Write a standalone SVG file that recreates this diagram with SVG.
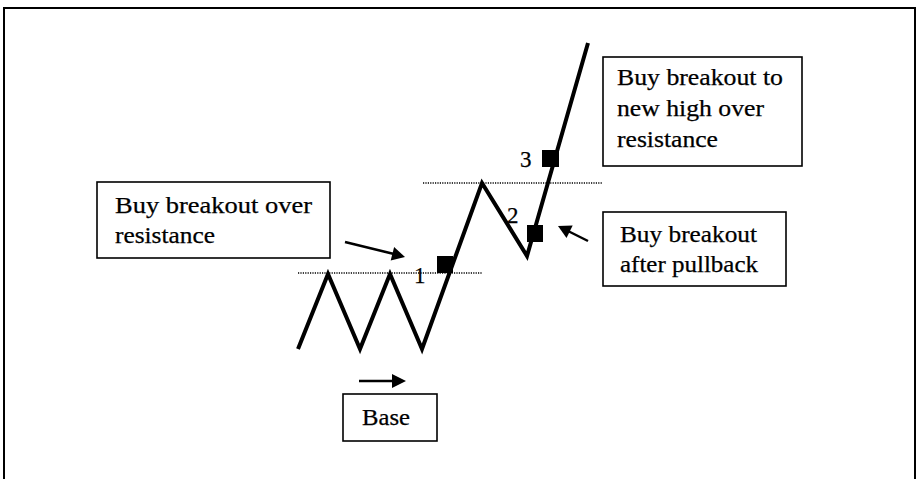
<svg xmlns="http://www.w3.org/2000/svg" width="919" height="479" viewBox="0 0 919 479">
<style>
.box{fill:#fff;stroke:#000;stroke-width:1.6}
.t{font-family:"Liberation Serif","Times New Roman",serif;font-size:23px;fill:#000;stroke:#000;stroke-width:0.25}
.n{font-family:"Liberation Serif","Times New Roman",serif;font-size:23px;fill:#000;stroke:#000;stroke-width:0.25}
.price{fill:none;stroke:#000;stroke-width:4;stroke-linejoin:miter;stroke-linecap:butt}
.res{stroke:#000;stroke-width:1.3;stroke-dasharray:1.2 1.2}
.arr{stroke:#000;stroke-width:2.4;fill:none}
.head{fill:#000;stroke:none}
</style>
<rect width="919" height="479" fill="#fff"/>
<path id="frame" d="M4,481 V8 H915 V481" fill="none" stroke="#000" stroke-width="2"/>

<g id="resistance-lines">
<line class="res" x1="298" y1="273" x2="482" y2="273"/>
<line class="res" x1="423" y1="183" x2="603" y2="183"/>
</g>

<g id="price">
<polyline class="price" points="298,349 328,274 360,349 390,274 422,349 482,183 527,256 588,43"/>
</g>

<g id="entry1">
<rect x="437" y="256" width="16" height="17" fill="#000"/>
<text class="n" x="414" y="283">1</text>
</g>
<g id="entry2">
<rect x="527" y="225" width="16" height="17" fill="#000"/>
<text class="n" x="507" y="223">2</text>
</g>
<g id="entry3">
<rect x="542" y="150" width="17" height="17" fill="#000"/>
<text class="n" x="520" y="167">3</text>
</g>

<g id="connectors">
<path class="arr" d="M345,242 L394,254"/>
<polygon class="head" points="405,257 390.7,260.6 394.1,247"/>
<path class="arr" d="M588,241 L568,231"/>
<polygon class="head" points="558,226 572.7,225.5 566.5,238.1"/>
<path class="arr" d="M359,381 L394,381"/>
<polygon class="head" points="406,381 392,374 392,388"/>
</g>

<g id="box-over-resistance">
<rect class="box" x="97" y="182" width="233" height="76"/>
<text class="t" x="115" y="213" textLength="197" lengthAdjust="spacingAndGlyphs">Buy breakout over</text>
<text class="t" x="115" y="243" textLength="100" lengthAdjust="spacingAndGlyphs">resistance</text>
</g>

<g id="box-new-high">
<rect class="box" x="603" y="57" width="199" height="109"/>
<text class="t" x="617" y="85" textLength="166" lengthAdjust="spacingAndGlyphs">Buy breakout to</text>
<text class="t" x="617" y="116" textLength="147" lengthAdjust="spacingAndGlyphs">new high over</text>
<text class="t" x="617" y="147" textLength="101" lengthAdjust="spacingAndGlyphs">resistance</text>
</g>

<g id="box-pullback">
<rect class="box" x="603" y="212" width="183" height="74"/>
<text class="t" x="620" y="242" textLength="137" lengthAdjust="spacingAndGlyphs">Buy breakout</text>
<text class="t" x="620" y="272" textLength="138" lengthAdjust="spacingAndGlyphs">after pullback</text>
</g>

<g id="box-base">
<rect class="box" x="343" y="394" width="94" height="47"/>
<text class="t" x="362" y="425" textLength="48" lengthAdjust="spacingAndGlyphs">Base</text>
</g>
</svg>
